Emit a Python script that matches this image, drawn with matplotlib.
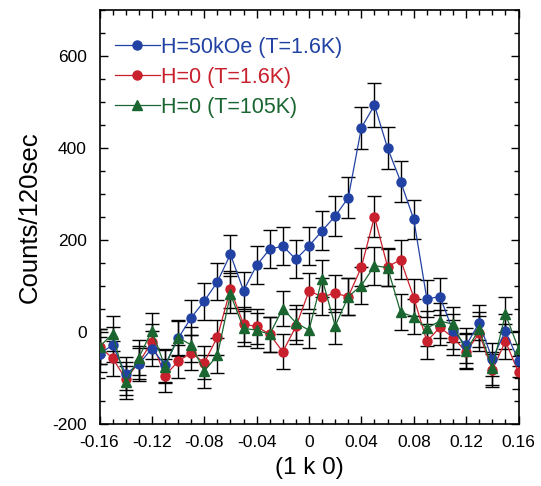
import matplotlib
matplotlib.use("Agg")
import matplotlib.pyplot as plt
from matplotlib.ticker import MultipleLocator

plt.rcParams['font.family'] = ['Liberation Sans', 'DejaVu Sans']

# (1 k 0) scan positions
k = [-0.16, -0.15, -0.14, -0.13, -0.12, -0.11, -0.10, -0.09, -0.08, -0.07, -0.06,
     -0.05, -0.04, -0.03, -0.02, -0.01, 0.00, 0.01, 0.02, 0.03, 0.04, 0.05,
     0.06, 0.07, 0.08, 0.09, 0.10, 0.11, 0.12, 0.13, 0.14, 0.15, 0.16]

# H=50kOe, T=1.6K
blue = [-48, -28, -91, -70, -36, -72, -14, 31, 67, 109, 169,
        90, 145, 180, 187, 158, 187, 220, 252, 292, 444, 493,
        400, 327, 245, 72, 77, 2, -29, 20, -59, 2, -62]
blue_err = [38, 38, 36, 36, 38, 36, 38, 38, 40, 40, 41,
            41, 41, 41, 41, 41, 42, 42, 43, 44, 46, 48,
            46, 44, 42, 40, 40, 38, 38, 38, 36, 38, 36]

# H=0, T=1.6K
red = [-32, -57, -102, -67, -21, -95, -64, -45, -67, -11, 93,
       17, 12, -5, -43, 12, 89, 77, 84, 77, 141, 251,
       142, 157, 75, -20, 10, -12, -43, -3, -83, -20, -88]
red_err = [38, 38, 36, 36, 38, 36, 36, 38, 36, 38, 40,
           38, 38, 38, 38, 38, 40, 40, 40, 40, 41, 44,
           41, 42, 40, 38, 38, 38, 38, 38, 36, 38, 36]

# H=0, T=105K
green = [-32, -4, -109, -56, 3, -75, -12, -28, -85, -51, 82,
         8, 4, -5, 51, 20, 4, 116, 13, 77, 101, 144,
         140, 43, 33, 8, 24, 17, -41, 6, -79, 39, -36]
green_err = [38, 38, 36, 38, 38, 36, 38, 38, 36, 38, 40,
             38, 38, 38, 39, 38, 38, 40, 38, 40, 40, 41,
             41, 39, 38, 38, 38, 38, 38, 38, 36, 38, 38]

c_blue = '#2142a3'
c_red = '#c8202c'
c_green = '#1b6630'

fig = plt.figure(figsize=(5.41, 4.86), dpi=100)
ax = fig.add_axes([99.5 / 541, 62 / 486, 419 / 541, 414 / 486])

for y, e in [(red, red_err), (blue, blue_err), (green, green_err)]:
    ax.errorbar(k, y, yerr=e, fmt='none', ecolor='black', elinewidth=1.0,
                capsize=5, capthick=1.0, zorder=1)

ax.plot(k, red, '-o', color=c_red, lw=0.9, ms=6.5, zorder=3, label='H=0 (T=1.6K)')
ax.plot(k, blue, '-o', color=c_blue, lw=0.9, ms=6.5, zorder=4, label='H=50kOe (T=1.6K)')
ax.plot(k, green, '-^', color=c_green, lw=0.9, ms=6.5, zorder=5, label='H=0 (T=105K)')

ax.set_xlim(-0.16, 0.16)
ax.set_ylim(-200, 700)
ax.xaxis.set_major_locator(MultipleLocator(0.04))
ax.xaxis.set_minor_locator(MultipleLocator(0.01))
ax.yaxis.set_major_locator(MultipleLocator(200))
ax.yaxis.set_minor_locator(MultipleLocator(50))
ax.set_xticks([-0.16, -0.12, -0.08, -0.04, 0, 0.04, 0.08, 0.12, 0.16])
ax.set_xticklabels(['-0.16', '-0.12', '-0.08', '-0.04', '0', '0.04', '0.08', '0.12', '0.16'])
ax.set_yticks([-200, 0, 200, 400, 600])
ax.set_yticklabels(['-200', '0', '200', '400', '600'])
ax.tick_params(which='both', direction='in', top=True, right=True, labelsize=12.5)
ax.tick_params(axis='x', which='major', pad=8)
ax.tick_params(axis='y', which='major', pad=9)
ax.tick_params(which='major', length=6, width=1)
ax.tick_params(which='minor', length=3.5, width=1)
for s in ax.spines.values():
    s.set_linewidth(1.2)

ax.set_xlabel('(1 k 0)', fontsize=17.5, labelpad=5)
ax.set_ylabel('Counts/120sec', fontsize=18.5, labelpad=8)

handles, labels = ax.get_legend_handles_labels()
order = [1, 0, 2]
leg = ax.legend([handles[i] for i in order], [labels[i] for i in order],
                loc='upper left', frameon=False, fontsize=15.5, handlelength=2.1,
                handletextpad=0.05, labelspacing=0.42, borderaxespad=0.3,
                bbox_to_anchor=(0.0, 0.972))
for txt, c in zip(leg.get_texts(), [c_blue, c_red, c_green]):
    txt.set_color(c)

fig.savefig('out.png', dpi=100)
